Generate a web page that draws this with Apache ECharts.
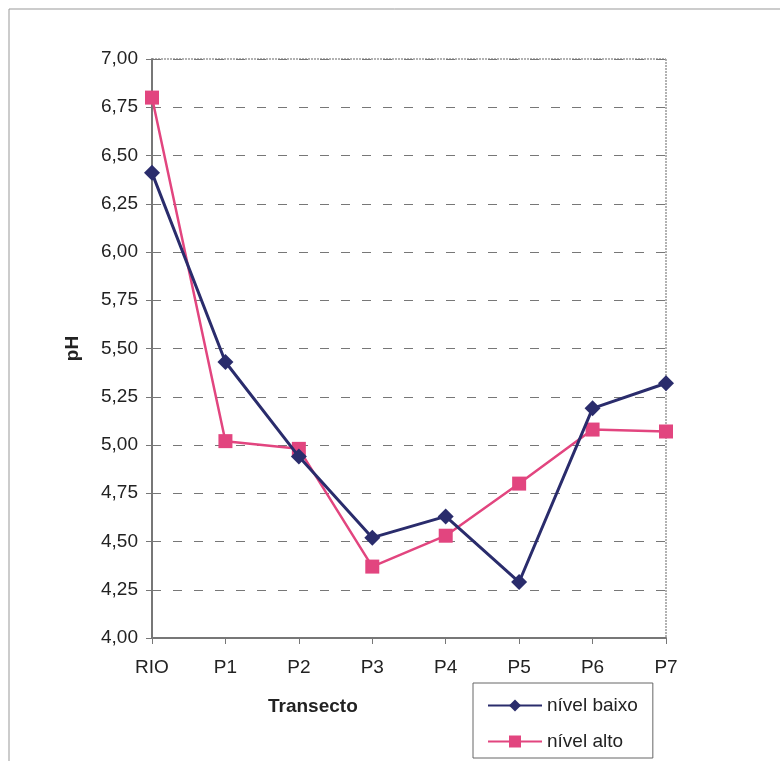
<!DOCTYPE html>
<html>
<head>
<meta charset="utf-8">
<script src="https://cdn.jsdelivr.net/npm/echarts@6/dist/echarts.min.js"></script>
<style>
  html, body { margin: 0; padding: 0; background: #fff; }
  #chart { width: 780px; height: 761px; }
</style>
</head>
<body>
<div id="chart"></div>
<script>
// Sampling points along the transect
const categories = ['RIO', 'P1', 'P2', 'P3', 'P4', 'P5', 'P6', 'P7'];
// pH at low water level
const nivelBaixo = [6.41, 5.43, 4.94, 4.52, 4.63, 4.29, 5.19, 5.32];
// pH at high water level
const nivelAlto = [6.80, 5.02, 4.98, 4.37, 4.53, 4.80, 5.08, 5.07];
// Value axis range
const yMin = 4.0, yMax = 7.0, yStep = 0.25;

const font = '"Liberation Sans", Arial, sans-serif';
const textColor = '#222';
const navy = '#2a2c6c';
const pink = '#e2457f';
const fs = 19;

const chart = echarts.init(document.getElementById('chart'), null, { renderer: 'canvas' });

chart.setOption({
  backgroundColor: '#fff',
  animation: false,
  grid: { left: 152, top: 59, width: 514, height: 579, show: false },
  xAxis: {
    type: 'category',
    data: categories,
    boundaryGap: false,
    axisLine: { lineStyle: { color: '#777', width: 2 } },
    axisTick: { show: true, alignWithLabel: true, length: 6, lineStyle: { color: '#777' } },
    axisLabel: { color: textColor, fontFamily: font, fontSize: fs, margin: 20 },
    splitLine: { show: false }
  },
  yAxis: {
    type: 'value',
    min: yMin,
    max: yMax,
    interval: yStep,
    axisLine: { show: true, lineStyle: { color: '#777', width: 2 } },
    axisTick: { show: true, length: 6, lineStyle: { color: '#777' } },
    axisLabel: {
      color: textColor, fontFamily: font, fontSize: fs, margin: 14,
      formatter: v => v.toFixed(2).replace('.', ',')
    },
    splitLine: { show: true, lineStyle: { color: '#777', type: [9, 12], width: 1 } },
    name: 'pH',
    nameLocation: 'middle',
    nameGap: 70,
    nameTextStyle: { color: textColor, fontFamily: font, fontSize: fs, fontWeight: 'bold' }
  },
  legend: {
    orient: 'vertical',
    left: 473,
    top: 683,
    padding: [13, 15, 7, 14],
    itemGap: 17,
    itemWidth: 54,
    itemHeight: 15,
    borderColor: '#666',
    borderWidth: 1,
    borderRadius: 0,
    textStyle: { color: textColor, fontFamily: font, fontSize: fs },
    data: ['nível baixo', 'nível alto']
  },
  graphic: [
    // outer frame (top and left edges)
    { type: 'line', shape: { x1: 9, y1: 9, x2: 780, y2: 9 }, style: { stroke: '#999', lineWidth: 1 }, silent: true },
    { type: 'line', shape: { x1: 9, y1: 9, x2: 9, y2: 761 }, style: { stroke: '#999', lineWidth: 1 }, silent: true },
    // plot area top and right borders
    { type: 'line', shape: { x1: 152, y1: 59, x2: 666, y2: 59 }, style: { stroke: '#999', lineWidth: 1.5, lineDash: [2, 1] }, silent: true },
    { type: 'line', shape: { x1: 666, y1: 59, x2: 666, y2: 638 }, style: { stroke: '#999', lineWidth: 1.5, lineDash: [2, 1] }, silent: true },
    // category axis title
    {
      type: 'text', left: 268, top: 697, silent: true,
      style: { text: 'Transecto', fill: textColor, font: 'bold ' + fs + 'px ' + font }
    }
  ],
  series: [
    {
      name: 'nível baixo',
      type: 'line',
      data: nivelBaixo,
      symbol: 'diamond',
      symbolSize: 16,
      lineStyle: { color: navy, width: 3 },
      itemStyle: { color: navy },
      z: 3
    },
    {
      name: 'nível alto',
      type: 'line',
      data: nivelAlto,
      symbol: 'rect',
      symbolSize: 14,
      lineStyle: { color: pink, width: 2.5 },
      itemStyle: { color: pink },
      z: 2
    }
  ]
});
</script>
</body>
</html>
